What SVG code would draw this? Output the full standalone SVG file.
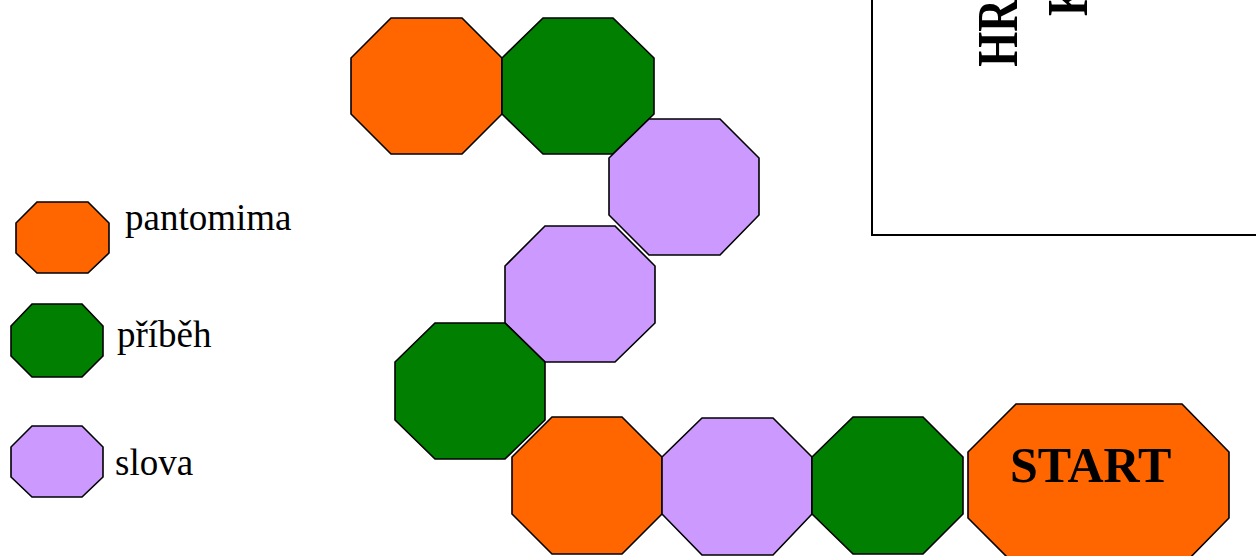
<svg xmlns="http://www.w3.org/2000/svg" width="1256" height="556" viewBox="0 0 1256 556">
<style>
.o{fill:#FF6600;stroke:#000;stroke-width:1.6}
.g{fill:#007F00;stroke:#000;stroke-width:1.6}
.p{fill:#CC99FF;stroke:#000;stroke-width:1.6}
.lbl{font-family:"Liberation Serif","Times New Roman",serif;font-size:37px;fill:#000}
.big{font-family:"Liberation Serif","Times New Roman",serif;font-weight:bold;fill:#000}
</style>
<rect width="1256" height="556" fill="#fff"/>
<g id="board-box">
<rect x="872" y="-10" width="400" height="245" fill="none" stroke="#000" stroke-width="2"/>
<text class="big" font-size="45" transform="translate(1017,66.7) rotate(-90) scale(1,1.29)">HR</text>
<text class="big" font-size="45" transform="translate(1087,16) rotate(-90) scale(1,1.29)">K</text>
</g>
<g id="legend-pantomima">
<polygon class="o" points="37,202 88,202 109,223 109,253 88,273 37,273 16,253 16,223"/>
<text class="lbl" x="125" y="230">pantomima</text>
</g>
<g id="legend-pribeh">
<polygon class="g" points="32,304 82,304 103,326 103,356 82,377 32,377 11,356 11,326"/>
<text class="lbl" x="117" y="347">příběh</text>
</g>
<g id="legend-slova">
<polygon class="p" points="32,426 82,426 103,447 103,477 82,497 32,497 11,477 11,447"/>
<text class="lbl" x="115" y="475">slova</text>
</g>
<g id="field-1"><polygon class="o" points="391,18 462,18 502,58 502,114 462,154 391,154 351,114 351,58"/></g>
<g id="field-2"><polygon class="g" points="543,18 613,18 654,58 654,114 613,154 543,154 502,114 502,58"/></g>
<g id="field-3"><polygon class="p" points="649,119 720,119 759,158 759,215 720,255 649,255 609,215 609,158"/></g>
<g id="field-4"><polygon class="p" points="545,226 615,226 655,266 655,323 615,362 545,362 505,323 505,266"/></g>
<g id="field-5"><polygon class="g" points="435,323 505,323 545,362 545,420 505,459 435,459 395,420 395,362"/></g>
<g id="field-6"><polygon class="o" points="552,417 622,417 662,457 662,514 622,554 552,554 512,514 512,457"/></g>
<g id="field-7"><polygon class="p" points="702,418 773,418 812,457 812,514 773,555 702,555 662,514 662,457"/></g>
<g id="field-8"><polygon class="g" points="853,417 923,417 963,457 963,514 923,554 853,554 812,514 812,457"/></g>
<g id="start">
<polygon class="o" points="1016,404 1182,404 1229,452 1229,518 1182,566 1016,566 968,518 968,452"/>
<text class="big" font-size="50" x="1010" y="482">START</text>
</g>
<g id="connectors"/>
</svg>
